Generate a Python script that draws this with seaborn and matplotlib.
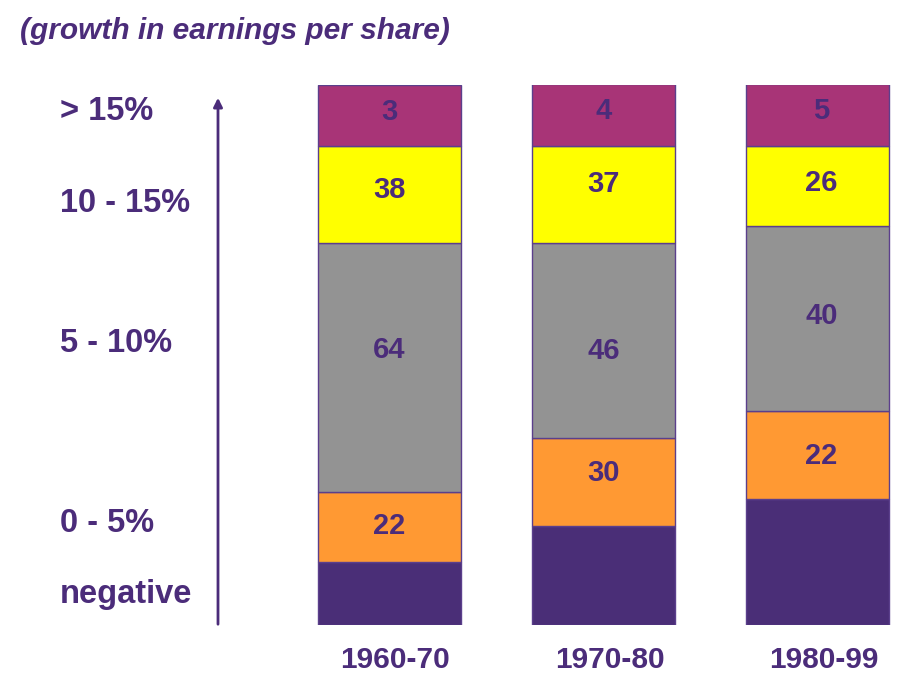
import matplotlib
matplotlib.use("Agg")
import matplotlib.pyplot as plt
import seaborn as sns
import pandas as pd
import numpy as np

# ---- data ----
periods = ["1960-70", "1970-80", "1980-99"]
groups = ["negative", "0 - 5%", "5 - 10%", "10 - 15%", "> 15%"]  # bottom -> top
# drawn segment heights (share of bar, %)
seg_negative = [11.6, 18.2, 23.2]
seg_0_5 = [13.0, 16.3, 16.3]
seg_5_10 = [46.1, 36.1, 34.3]
seg_10_15 = [18.0, 18.0, 14.8]
seg_15_plus = [11.3, 11.4, 11.4]
# printed values
lab_negative = ["", "", ""]
lab_0_5 = ["22", "30", "22"]
lab_5_10 = ["64", "46", "40"]
lab_10_15 = ["38", "37", "26"]
lab_15_plus = ["3", "4", "5"]
title_text = "(growth in earnings per share)"

segments = [seg_negative, seg_0_5, seg_5_10, seg_10_15, seg_15_plus]
labels = [lab_negative, lab_0_5, lab_5_10, lab_10_15, lab_15_plus]
colors = ["#4A2E77", "#FF9933", "#939393", "#FFFF00", "#A83477"]
txt_color = "#4B2C7A"

# layout: label nudges in pixels (dy up positive), per segment per bar
nudge_y = [[0, 0, 0], [1, 9, -1], [17, -10, 3], [4, 11, 3], [3, 4, 4]]
nudge_x = [0, 0, 4]

sns.set_theme(style="white")
plt.rcParams["font.family"] = ["Liberation Sans", "DejaVu Sans"]

fig = plt.figure(figsize=(9, 7), dpi=100)
fig.patch.set_facecolor("white")
ax = fig.add_axes([0, (700 - 624.5) / 700, 1, 540 / 700])
ax.set_facecolor("none")
PX = 214.0  # px per category unit
YU = 540 / 100.0  # px per y unit

bottom = np.zeros(len(periods))
for k, (seg, lab, col) in enumerate(zip(segments, labels, colors)):
    df = pd.DataFrame({"period": periods, "value": seg})
    sns.barplot(data=df, x="period", y="value", ax=ax, color=col,
                bottom=bottom, width=0.668, edgecolor="#5B3F8C",
                linewidth=1.0, saturation=1, errorbar=None)
    for i, (v, t) in enumerate(zip(seg, lab)):
        if t:
            ax.text(i + nudge_x[i] / PX, bottom[i] + v / 2 + nudge_y[k][i] / YU, t,
                    ha="center", va="center",
                    fontsize=21, fontweight="bold", color=txt_color)
    bottom = bottom + np.array(seg)

ax.set_xlim(-389.5 / PX, (900 - 389.5) / PX)
ax.set_ylim(0, 100)
for s in ax.spines.values():
    s.set_visible(False)
ax.set_yticks([])
ax.set_xlabel("")
ax.set_ylabel("")
ax.tick_params(axis="x", length=0, pad=15.5)
ax.set_xticks(range(len(periods)))
ax.set_xticklabels(periods, fontsize=21.5, fontweight="bold", color=txt_color)
for lbl in ax.get_xticklabels():
    lbl.set_transform(lbl.get_transform() +
                      matplotlib.transforms.ScaledTranslation(6 / 100, 0, fig.dpi_scale_trans))

# left category labels
left_y = {"> 15%": 112, "10 - 15%": 203, "5 - 10%": 344, "0 - 5%": 523, "negative": 595}
for g in groups:
    fig.text(60 / 900, 1 - left_y[g] / 700, g, ha="left", va="center",
             fontsize=23.5, fontweight="bold", color=txt_color)

# arrow
fig.add_artist(matplotlib.patches.FancyArrowPatch(
    (218 / 900, 1 - 627 / 700), (218 / 900, 1 - 95 / 700),
    transform=fig.transFigure, arrowstyle="-|>", mutation_scale=13,
    color=txt_color, linewidth=2))

fig.text(20 / 900, 1 - 31 / 700, title_text, ha="left", va="center",
         fontsize=21.5, fontweight="bold", fontstyle="italic", color=txt_color)

fig.savefig("out.png", dpi=100, facecolor="white")
